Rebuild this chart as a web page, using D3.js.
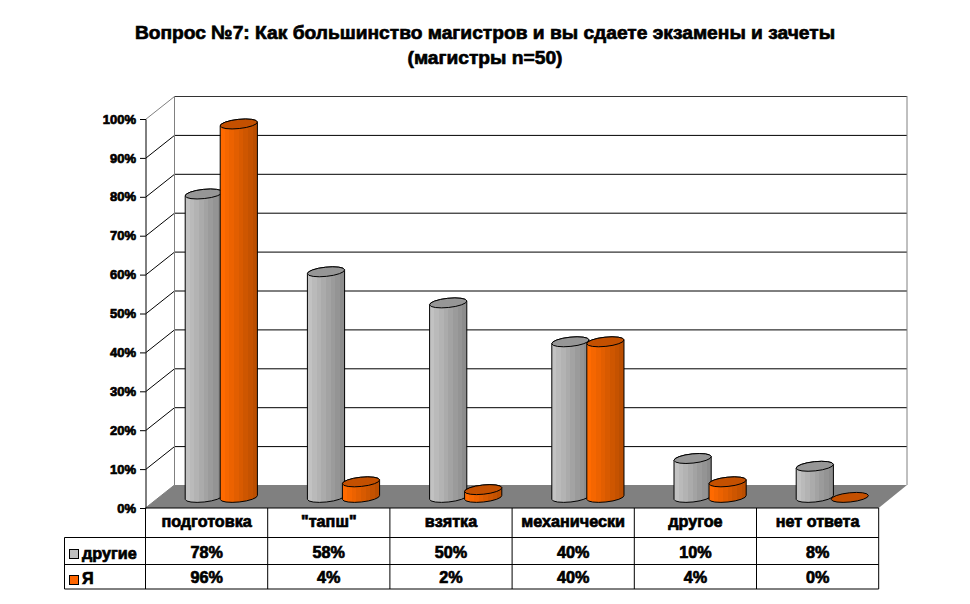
<!DOCTYPE html>
<html><head><meta charset="utf-8">
<script src="https://cdn.jsdelivr.net/npm/d3@7"></script>
<style>html,body{margin:0;padding:0;background:#fff}svg{display:block}
text{font-family:"Liberation Sans",Arial,sans-serif;font-weight:bold;fill:#000;stroke:#000;stroke-width:.7px}</style>
</head><body><svg id="c" width="970" height="604"></svg>
<script>
const categories=["подготовка","\"тапш\"","взятка","механически","другое","нет ответа"];
const seriesNames=["другие","Я"];
const others=[78,58,50,40,10,8];
const me=[96,4,2,40,4,0];
const yTicks=[0,10,20,30,40,50,60,70,80,90,100];
const titleLines=["Вопрос №7: Как большинство магистров и вы сдаете экзамены и зачеты","(магистры n=50)"];
const fills=[{a:"#c2c2c2",b:"#8c8c8c",top:"#969696",sw:"#c0c0c0"},{a:"#ff6a00",b:"#bb4e00",top:"#c45000",sw:"#ff6600"}];

const svg=d3.select("#c");
const L=145.5,R=878.7,Y0=508,Y100=119,DX=29,DY=23;
const x=d3.scaleBand().domain(categories).range([L,R]);
const y=d3.scaleLinear().domain([0,100]).range([Y0,Y100]);

// stepped gradients
const defs=svg.append("defs");
fills.forEach((f,i)=>{
  const g=defs.append("linearGradient").attr("id","g"+i);
  const n=8,c=d3.interpolateRgb(f.a,f.b);
  d3.range(n).forEach(k=>{
    g.append("stop").attr("offset",k/n).attr("stop-color",c(k/(n-1)));
    g.append("stop").attr("offset",(k+1)/n).attr("stop-color",c(k/(n-1)));
  });
});

// title
svg.selectAll("text.t").data(titleLines).join("text").attr("class","t")
  .attr("x",485).attr("y",(d,i)=>39+i*25).attr("text-anchor","middle")
  .attr("font-size",19.2).text(d=>d);

// floor
svg.append("polygon").attr("fill","#808080")
  .attr("points",[[L,Y0],[R,Y0],[R+DX-.7,Y0-DY],[L+DX,Y0-DY]].join(" "));

// walls and grid
const grid=svg.append("g").attr("fill","none");
yTicks.slice(1).forEach(t=>{
  grid.append("line").attr("x1",L+DX).attr("x2",R+DX-.7).attr("y1",y(t)-DY+.5).attr("y2",y(t)-DY+.5)
    .attr("stroke",t===100?"#333":"#000");
  grid.append("line").attr("x1",L).attr("x2",L+DX).attr("y1",y(t)+.5).attr("y2",y(t)-DY+.5)
    .attr("stroke",t===100?"#808080":"#000");
});
grid.append("line").attr("x1",L).attr("x2",L+DX).attr("y1",y(0)).attr("y2",y(0)-DY).attr("stroke","#808080");
grid.append("line").attr("x1",L+DX).attr("x2",L+DX).attr("y1",y(100)-DY).attr("y2",y(0)-DY).attr("stroke","#808080");
grid.append("line").attr("x1",R+DX-.7).attr("x2",R+DX-.7).attr("y1",y(100)-DY).attr("y2",y(0)-DY).attr("stroke","#808080");

// y axis
const axis=svg.append("g").attr("transform",`translate(${L},0)`)
  .call(d3.axisLeft(y).tickValues(yTicks).tickFormat(d=>d+"%").tickSize(5.5).tickPadding(4));
axis.select(".domain").attr("stroke","#000");
axis.selectAll("text").attr("font-size",13).attr("font-family",null).style("font-family",'"Liberation Sans",Arial,sans-serif');
axis.selectAll("line").attr("stroke","#000");

// cylinders
const rx=18.7,ry=4.6,tilt=-6,rad=tilt*Math.PI/180,ex=rx*Math.cos(rad),ey=rx*Math.sin(rad);
const lift=10.6,barOff=[58.3,93.3];
const arc=(px,py,large,sweep)=>`A${rx} ${ry} ${tilt} ${large} ${sweep} ${px} ${py}`;
function drawBar(cat,val,s){
  const cx=x(cat)+barOff[s],base=y(0)-lift,top=y(val)-lift;
  const g=svg.append("g").attr("stroke","#000").attr("stroke-width",1);
  if(val>0){
    g.append("path").attr("fill",`url(#g${s})`)
      .attr("d",`M${cx-ex} ${top-ey}L${cx-ex} ${base-ey}`+arc(cx+ex,base+ey,0,0)+`L${cx+ex} ${top+ey}`+arc(cx-ex,top-ey,0,0)+"Z");
  }
  g.append("path").attr("fill",fills[s].top)
    .attr("d",`M${cx-ex} ${top-ey}`+arc(cx+ex,top+ey,0,1)+arc(cx-ex,top-ey,0,1)+"Z");
}
categories.forEach((c,i)=>{drawBar(c,others[i],0);drawBar(c,me[i],1);});

// data table
const rows=[508,537.5,564.5,589],TL=64.5;
const tb=svg.append("g").attr("stroke","#000").attr("stroke-width",1);
const hl=(x1,x2,yy)=>tb.append("line").attr("x1",x1).attr("x2",x2).attr("y1",yy).attr("y2",yy);
const vl=(xx,y1,y2)=>tb.append("line").attr("x1",xx).attr("x2",xx).attr("y1",y1).attr("y2",y2);
hl(L,R,rows[0]);hl(TL,R,rows[1]);hl(TL,R,rows[2]);hl(TL,R,rows[3]);
vl(TL,rows[1],rows[3]);
categories.forEach(c=>vl(x(c),rows[0],rows[3]));
vl(R,rows[0],rows[3]);

const cellX=c=>x(c)+x.bandwidth()/2;
svg.selectAll("text.cat").data(categories).join("text").attr("class","cat")
  .attr("x",cellX).attr("y",527).attr("text-anchor","middle").attr("font-size",16.2).text(d=>d);
[others,me].forEach((vals,s)=>{
  const by=[558,583][s];
  svg.selectAll("text.v"+s).data(vals).join("text").attr("class","v"+s)
    .attr("x",(d,i)=>cellX(categories[i])).attr("y",by).attr("text-anchor","middle")
    .attr("font-size",16.2).text(d=>d+"%");
  svg.append("rect").attr("x",69.5).attr("y",[549.5,575.5][s]).attr("width",9).attr("height",9)
    .attr("fill",fills[s].sw).attr("stroke","#000");
  svg.append("text").attr("x",82).attr("y",by+.5).attr("font-size",16.2).text(seriesNames[s]);
});
</script></body></html>
